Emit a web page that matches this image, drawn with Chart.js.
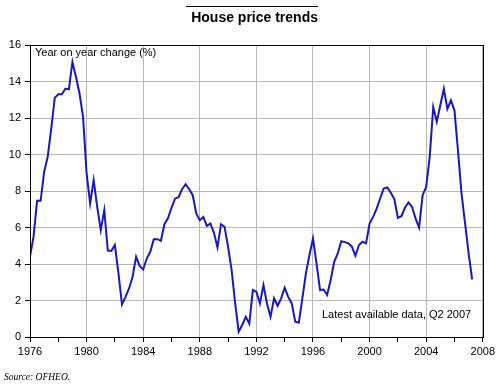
<!DOCTYPE html>
<html>
<head>
<meta charset="utf-8">
<script src="https://cdn.jsdelivr.net/npm/chart.js@4.4.3/dist/chart.umd.min.js"></script>
<style>
  html, body { margin: 0; padding: 0; background: #fff; }
  #wrap { position: relative; width: 498px; height: 388px; overflow: hidden; font-family: 'Liberation Sans', Arial, sans-serif; }
  #chart { position: absolute; left: 0; top: 0; }
  .title { position: absolute; left: 186px; top: 6px; width: 132px; border-top: 1px solid #000;
           font-weight: bold; font-size: 14px; text-align: right; line-height: 18px; padding-top: 1px; }
  .note { position: absolute; font-size: 11px; color: #000; white-space: nowrap; }
  .source { position: absolute; left: 4px; top: 372px; font-family: 'Liberation Serif', 'Times New Roman', serif;
            font-style: italic; font-size: 9.5px; }
</style>
</head>
<body>
<div id="wrap">
  <canvas id="chart" width="498" height="388"></canvas>
  <div class="title">House price trends</div>
  <div class="note" style="left:35px; top:46px;">Year on year change (%)</div>
  <div class="note" style="left:322px; top:308px;">Latest available data, Q2 2007</div>
  <div class="source">Source: OFHEO.</div>
</div>
<script>
// quarterly, 1976 Q1 .. 2007 Q2
const startYear = 1976;
const yoyChange = [
  4.4, 5.5, 7.46, 7.46, 9.05, 9.87, 11.4, 13.1, 13.3, 13.3, 13.6, 13.58,
  15.07, 14.25, 13.34, 12.06, 8.96, 7.32, 8.6, 7.13, 5.86, 6.95, 4.74, 4.72,
  5.04, 3.5, 1.79, 2.2, 2.66, 3.3, 4.4, 3.9, 3.7, 4.3, 4.67, 5.36,
  5.36, 5.27, 6.18, 6.5, 7.08, 7.58, 7.66, 8.1, 8.37, 8.1, 7.77, 6.77,
  6.4, 6.58, 6.09, 6.22, 5.71, 4.91, 6.18, 6.04, 4.94, 3.67, 1.84, 0.29,
  0.66, 1.11, 0.74, 2.57, 2.48, 1.84, 2.85, 1.84, 1.11, 2.12, 1.71, 2.12,
  2.7, 2.2, 1.84, 0.84, 0.78, 2.12, 3.49, 4.49, 5.4, 4.03, 2.57, 2.6,
  2.3, 3.12, 4.12, 4.58, 5.25, 5.2, 5.13, 4.95, 4.45, 5.04, 5.22, 5.13,
  6.22, 6.58, 7.04, 7.59, 8.14, 8.2, 7.9, 7.56, 6.53, 6.62, 7.08, 7.37,
  7.13, 6.5, 6.0, 7.77, 8.23, 9.87, 12.6, 11.8, 12.7, 13.6, 12.5, 12.97,
  12.42, 10.2, 7.86, 6.22, 4.58, 3.16
];
const xTicksMajor = [1976, 1980, 1984, 1988, 1992, 1996, 2000, 2004, 2008];
const yTicks = [0, 2, 4, 6, 8, 10, 12, 14, 16];

const points = yoyChange.map((v, i) => ({ x: startYear + i / 4, y: v }));
const isMajor = v => xTicksMajor.includes(v);

const frame = {
  id: 'frame',
  afterDraw(chart) {
    const { ctx, chartArea: a } = chart;
    ctx.save();
    ctx.strokeStyle = '#000';
    ctx.lineWidth = 1;
    ctx.strokeRect(Math.round(a.left) + 0.5, Math.round(a.top) + 0.5,
                   Math.round(a.right - a.left), Math.round(a.bottom - a.top));
    ctx.restore();
  }
};

Chart.defaults.font.family = "'Liberation Sans', Arial, sans-serif";
Chart.defaults.color = '#000';

new Chart(document.getElementById('chart'), {
  type: 'line',
  data: {
    datasets: [{
      data: points,
      borderColor: '#1818c0',
      borderWidth: 2,
      pointRadius: 0,
      tension: 0,
      fill: false
    }]
  },
  options: {
    responsive: false,
    animation: false,
    layout: { padding: { top: 45, right: 15, bottom: 29, left: 0 } },
    plugins: { legend: { display: false }, tooltip: { enabled: false } },
    scales: {
      x: {
        type: 'linear',
        min: 1976, max: 2008,
        afterFit: s => { s.height = 22; },
        ticks: {
          stepSize: 2, autoSkip: false, maxRotation: 0, padding: 3,
          font: { size: 11 },
          callback: v => isMajor(v) ? String(v) : ''
        },
        grid: {
          color: c => (c.tick && isMajor(c.tick.value)) ? '#b8b8b8' : 'rgba(0,0,0,0)',
          tickColor: '#000', tickLength: 5
        },
        border: { color: '#000' }
      },
      y: {
        min: 0, max: 16,
        afterFit: s => { s.width = 30; },
        afterBuildTicks: s => { s.ticks = yTicks.map(v => ({ value: v })); },
        ticks: { font: { size: 11 }, padding: 4 },
        grid: { color: '#b8b8b8', tickColor: '#000', tickLength: 5 },
        border: { color: '#000' }
      }
    }
  },
  plugins: [frame]
});
</script>
</body>
</html>
